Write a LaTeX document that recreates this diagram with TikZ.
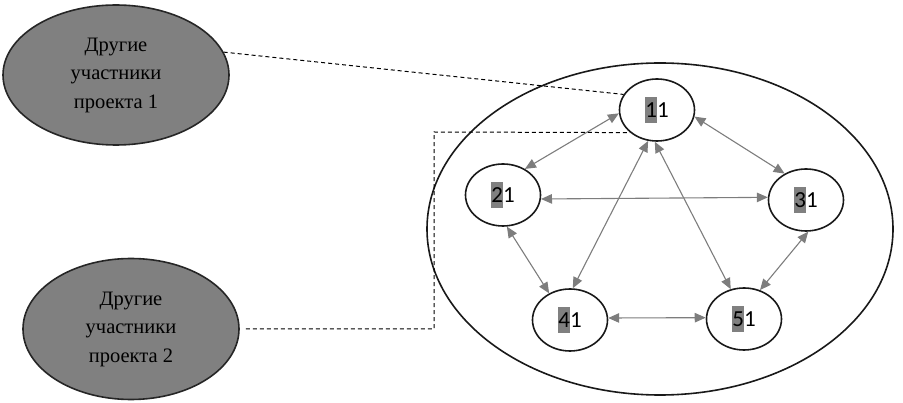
\documentclass[tikz,border=0pt]{standalone}
\usepackage{fontspec}
\setmainfont{Liberation Serif}
\newfontfamily\calibrifont{Carlito}
\usepackage{xcolor}
\usepackage{tikz}
\usetikzlibrary{arrows.meta,shapes.geometric}

\definecolor{otherGray}{RGB}{128,128,128}
\definecolor{linkGray}{RGB}{125,125,125}
\definecolor{markGray}{RGB}{128,128,128}

\newcommand{\markdigit}[1]{{\setlength{\fboxsep}{0pt}\colorbox{markGray}{\rule[-5pt]{0pt}{26pt}#1}}}

\begin{document}
\begin{tikzpicture}[x=1pt,y=-1pt,
  other/.style={ellipse, draw=black!85, line width=1.6pt, fill=otherGray, inner sep=0pt, align=center, font=\fontsize{20.5}{28.5}\selectfont},
  member/.style={ellipse, draw=black!90, line width=1.6pt, inner sep=0pt, minimum width=75pt, minimum height=62pt, font=\calibrifont\fontsize{23}{26}\selectfont},
  link/.style={draw=linkGray, line width=1.1pt, >={Triangle[length=11pt,width=9.5pt]}, <->},
  dashlink/.style={draw=black, line width=1pt, dash pattern=on 4pt off 3pt}
]

\useasboundingbox (0,0) rectangle (903,403);

% Other participants
\node[other, minimum width=226pt, minimum height=140pt] (otherOne) at (116,75) {Другие\\участники\\проекта 1};
\node[other, minimum width=216pt, minimum height=141pt] (otherTwo) at (131,329) {Другие\\участники\\проекта 2};

% Project team
\node[ellipse, draw=black!90, line width=1.6pt, minimum width=466pt, minimum height=332pt] (team) at (660,229) {};

% Team members
\node[member] (mOne) at (657,110) {\markdigit{1}1};
\node[member] (mTwo) at (503,195) {\markdigit{2}1};
\node[member] (mThree) at (806,200) {\markdigit{3}1};
\node[member] (mFour) at (570,320) {\markdigit{4}1};
\node[member] (mFive) at (744,319) {\markdigit{5}1};

% Links inside the team
\draw[link] (mOne.185) -- (mTwo.50);
\draw[link] (mOne.350) -- (mThree.129);
\draw[link] (mOne.254) -- (mFour.85);
\draw[link] (mOne.266) -- (mFive.114);
\draw[link] (mTwo.354) -- (mThree.176);
\draw[link] (mTwo.277) -- (mFour.128);
\draw[link] (mThree.274) -- (mFive.61);
\draw[link] (mFour.3) -- (mFive.178);

% Links to other participants
\coordinate (bendTwo) at (434,132);
\draw[dashlink] (otherOne.12) -- (mOne.155);
\draw[dashlink] ([xshift=6pt]otherTwo.east) -| (bendTwo) -- (mOne.220);
\end{tikzpicture}
\end{document}
